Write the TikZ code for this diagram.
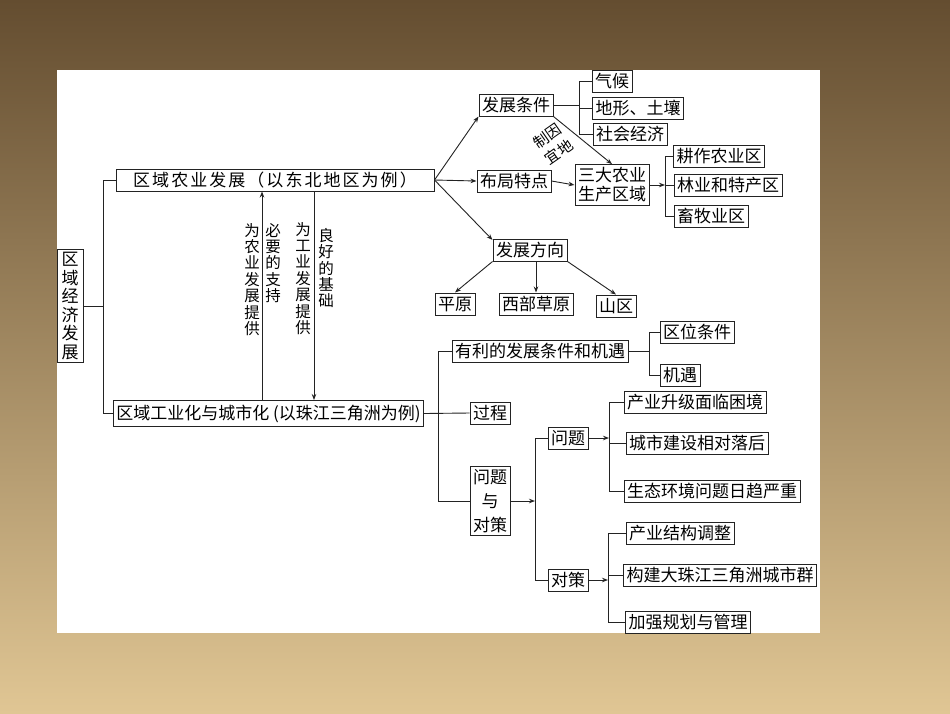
\documentclass[tikz,border=0pt]{standalone}
\usepackage{fontspec}
\newfontfamily\cjk{Noto Sans CJK SC}
\newfontfamily\cjkwide[LetterSpace=12]{Noto Sans CJK SC}
\usetikzlibrary{arrows.meta}

\definecolor{bgtop}{RGB}{100,77,48}
\definecolor{bgmid}{RGB}{160,126,82}
\definecolor{bgbot}{RGB}{224,198,148}
\definecolor{ink}{RGB}{35,35,35}

\tikzset{
  base/.style={draw=ink, line width=1pt, inner xsep=3pt, inner ysep=3pt, font=\cjk\fontsize{17}{19}\selectfont},
  box/.style={base, text height=14pt, text depth=2pt},
  wide/.style={box, font=\cjkwide\fontsize{17}{19}\selectfont},
  stack/.style={base, align=center},
  link/.style={draw=ink, line width=0.9pt},
  arr/.style={link, -{Stealth[length=6pt,width=4.5pt]}},
  vlabel/.style={align=center, inner sep=0pt, font=\cjk\fontsize{15.5}{16.4}\selectfont},
}

\begin{document}
\begin{tikzpicture}[x=1pt, y=-1pt]
  \useasboundingbox (0,0) rectangle (950,713);
  % background and panel
  \shade[top color=bgtop, middle color=bgmid, bottom color=bgbot] (0,0) rectangle (950,713);
  \fill[white] (57,70) rectangle (820,633);

  % root and the two main parts
  \node[stack, minimum width=26pt, font=\cjk\fontsize{17}{18.5}\selectfont] (root) at (70,306) {区\\域\\经\\济\\发\\展};
  \node[wide, minimum width=318pt] (ny) at (275,180) {区域农业发展（以东北地区为例）};
  \node[box, minimum width=309pt, minimum height=26pt] (gy) at (268.5,413.5) {区域工业化与城市化 (以珠江三角洲为例)};

  % agriculture branch
  \node[box] (tj) at (516,105) {发展条件};
  \node[box] (bj) at (514,181) {布局特点};
  \node[box] (fx) at (530,250) {发展方向};
  \node[box] (qh) at (612,81) {气候};
  \node[box] (dx) at (638,108) {地形、土壤};
  \node[box] (sh) at (630,134) {社会经济};
  \node[stack, font=\cjk\fontsize{17}{19}\selectfont] (sd) at (612,185) {三大农业\\生产区域};
  \node[box] (gz) at (719,156) {耕作农业区};
  \node[box] (ly) at (728,185) {林业和特产区};
  \node[box] (xm) at (711,216) {畜牧业区};
  \node[box] (py) at (455,304) {平原};
  \node[box] (xb) at (536,304) {西部草原};
  \node[box] (sq) at (616,306) {山区};

  % industry branch
  \node[box] (yl) at (540,351) {有利的发展条件和机遇};
  \node[box] (qw) at (697,332) {区位条件};
  \node[box] (jy) at (680,375) {机遇};
  \node[box] (gc) at (490,413) {过程};
  \node[stack, font=\cjk\fontsize{17}{24}\selectfont] (wd) at (490,501) {问题\\与\\对策};
  \node[box] (wt) at (568,438) {问题};
  \node[box] (dc) at (568,580) {对策};
  \node[box] (p1) at (695,402) {产业升级面临困境};
  \node[box] (p2) at (697,443) {城市建设相对落后};
  \node[box] (p3) at (712,491) {生态环境问题日趋严重};
  \node[box] (c1) at (680,533) {产业结构调整};
  \node[box] (c2) at (720,575) {构建大珠江三角洲城市群};
  \node[box] (c3) at (688,622) {加强规划与管理};

  % bracket columns
  \coordinate (b0) at (103,0);
  \coordinate (b1) at (579,0);
  \coordinate (b2) at (665,0);
  \coordinate (b3) at (438,0);
  \coordinate (b4) at (649,0);
  \coordinate (b5) at (535,0);
  \coordinate (b6) at (609,0);
  \coordinate (b7) at (608,0);
  \coordinate (ua) at (262,0);
  \coordinate (da) at (314,0);

  % root bracket
  \draw[link] (root.east) -- (root.east -| b0);
  \draw[link] (ny.west) -- (ny.west -| b0) -- (gy.west -| b0) -- (gy.west);

  % links between the two parts
  \draw[arr] (gy.north -| ua) -- (ny.south -| ua);
  \draw[arr] (ny.south -| da) -- (gy.north -| da);
  \node[vlabel, anchor=north] (la) at (252,223) {为\\农\\业\\发\\展\\提\\供};
  \node[vlabel, anchor=north] (lb) at (273,223) {必\\要\\的\\支\\持};
  \node[vlabel, anchor=north] (lc) at (303,222) {为\\工\\业\\发\\展\\提\\供};
  \node[vlabel, anchor=north] (ld) at (326,228) {良\\好\\的\\基\\础};

  % agriculture connectors
  \draw[arr] (ny.east) -- (tj.south west);
  \draw[arr] (ny.east) -- (bj.west);
  \draw[arr] (ny.east) -- (fx.165);
  \draw[link] (tj.east) -- (tj.east -| b1);
  \draw[link] (qh.west) -- (qh.west -| b1) -- (sh.west -| b1) -- (sh.west);
  \draw[link] (dx.west) -- (dx.west -| b1);
  \draw[arr] (tj.south east) -- (sd.north);
  \node[rotate=35, align=center, inner sep=0pt, font=\cjk\fontsize{15}{20}\selectfont] (yd) at (553,144) {制因\\宜地};
  \draw[arr] (bj.east) -- (sd.west);
  \draw[arr] (sd.east) -- (sd.east -| b2);
  \draw[link] (gz.west) -- (gz.west -| b2) -- (xm.west -| b2) -- (xm.west);
  \draw[link] (ly.west) -- (ly.west -| b2);
  \draw[arr] (fx.south west) -- (py.north);
  \draw[arr] (xb.north |- fx.south) -- (xb.north);
  \draw[arr] (fx.south east) -- (sq.north);

  % industry connectors
  \draw[link] (gy.east) -- (gc.west);
  \draw[link] (yl.west) -- (yl.west -| b3) -- (wd.west -| b3) -- (wd.west);
  \draw[link] (yl.east) -- (yl.east -| b4);
  \draw[link] (qw.west) -- (qw.west -| b4) -- (jy.west -| b4) -- (jy.west);
  \draw[arr] (wd.east) -- (wd.east -| b5);
  \draw[link] (wt.west) -- (wt.west -| b5) -- (dc.west -| b5) -- (dc.west);
  \draw[arr] (wt.east) -- (wt.east -| b6);
  \draw[link] (p1.west) -- (p1.west -| b6) -- (p3.west -| b6) -- (p3.west);
  \draw[link] (p2.west) -- (p2.west -| b6);
  \draw[arr] (dc.east) -- (dc.east -| b7);
  \draw[link] (c1.west) -- (c1.west -| b7) -- (c3.west -| b7) -- (c3.west);
  \draw[link] (c2.west) -- (c2.west -| b7);
\end{tikzpicture}
\end{document}
